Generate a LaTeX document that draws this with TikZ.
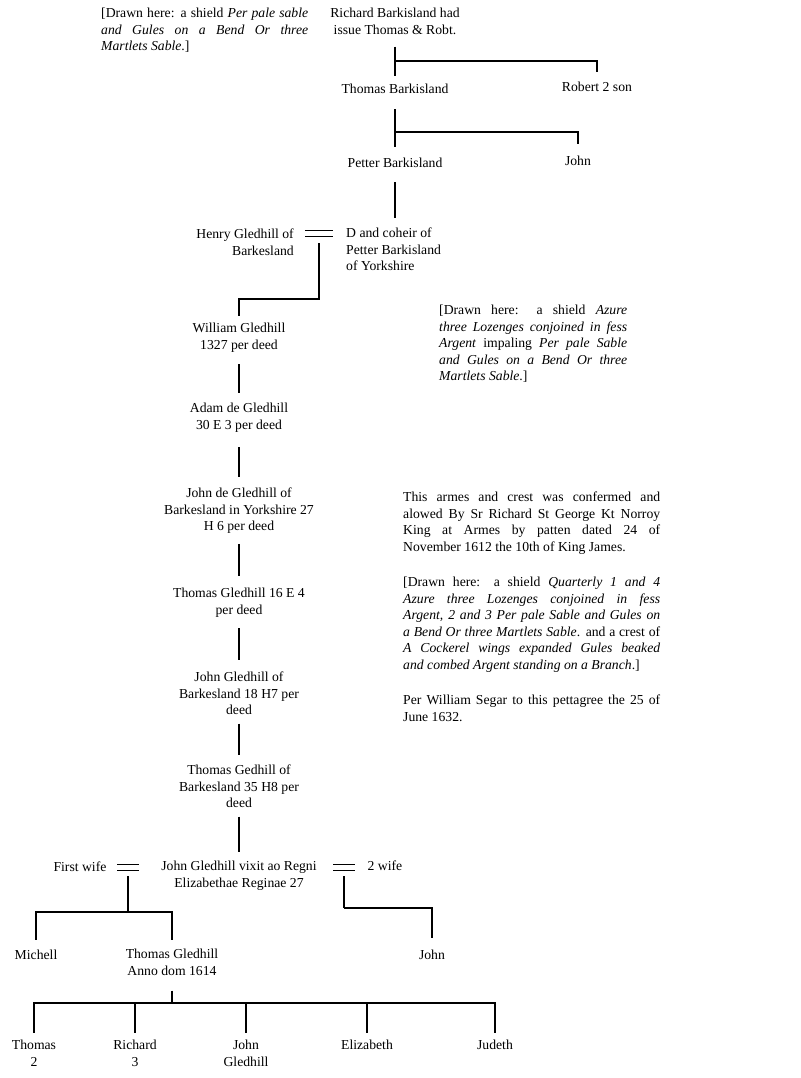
\documentclass[tikz,border=0pt]{standalone}
\usepackage{fontspec}
\setmainfont{Liberation Serif}
\newcommand\fs{\fontsize{13.7pt}{16.5pt}\selectfont}
\newcommand\jl[2]{\makebox[#1][s]{#2}}
\begin{document}
\begin{tikzpicture}[x=1pt,y=-1pt,
  lbl/.style={inner sep=0pt,font=\fs,align=center,anchor=north},
  blk/.style={inner sep=0pt,font=\fs,align=left,anchor=north west},
  rblk/.style={inner sep=0pt,font=\fs,align=right,anchor=north east},
  ln/.style={line width=1.1pt},
  eqline/.style={line width=0.9pt}]
\path[use as bounding box, fill=white] (0,0) rectangle (800,1078);

% ---- notes ----
\node[blk] (shieldA) at (101,8) {\jl{207pt}{[Drawn here: a shield \textit{Per pale sable}}\\
\jl{207pt}{\textit{and Gules on a Bend Or three}}\\
\textit{Martlets Sable}.]};

\node[blk] (shieldB) at (439,305) {\jl{188pt}{[Drawn here: a shield \textit{Azure}}\\
\jl{188pt}{\textit{three Lozenges conjoined in fess}}\\
\jl{188pt}{\textit{Argent} impaling \textit{Per pale Sable}}\\
\jl{188pt}{\textit{and Gules on a Bend Or three}}\\
\textit{Martlets Sable}.]};

\node[blk] (confirm) at (403,492) {\jl{257pt}{This armes and crest was confermed and}\\
\jl{257pt}{alowed By Sr Richard St George Kt Norroy}\\
\jl{257pt}{King at Armes by patten dated 24 of}\\
November 1612 the 10th of King James.};

\node[blk] (shieldC) at (403,577) {\jl{257pt}{[Drawn here: a shield \textit{Quarterly 1 and 4}}\\
\jl{257pt}{\textit{Azure three Lozenges conjoined in fess}}\\
\jl{257pt}{\textit{Argent, 2 and 3 Per pale Sable and Gules on}}\\
\jl{257pt}{\textit{a Bend Or three Martlets Sable}. and a crest of}\\
\jl{257pt}{\textit{A Cockerel wings expanded Gules beaked}}\\
\textit{and combed Argent standing on a Branch}.]};

\node[blk] (segar) at (403,695) {\jl{257pt}{Per William Segar to this pettagree the 25 of}\\
June 1632.};

% ---- Barkisland line ----
\node[lbl] (rich) at (395,8) {Richard Barkisland had\\issue Thomas \& Robt.};
\node[lbl] (thomasB) at (395,84) {Thomas Barkisland};
\node[lbl] (robert) at (597,82) {Robert 2 son};
\node[lbl] (petter) at (395,158) {Petter Barkisland};
\node[lbl] (johnP) at (578,156) {John};

\draw[ln,shorten <=12pt,shorten >=8pt] (rich.south) -- (thomasB.north);
\coordinate (j1) at (395,61);
\draw[ln,shorten >=10pt] (j1) -| (robert.north);
\draw[ln,shorten <=15pt,shorten >=11pt] (thomasB.south) -- (petter.north);
\coordinate (j2) at (395,132);
\draw[ln,shorten >=12pt] (j2) -| (johnP.north);

% ---- marriage Henry ----
\node[rblk] (henry) at (294,229) {Henry Gledhill of\\Barkesland};
\node[blk] (dcoheir) at (346,228) {D and coheir of\\Petter Barkisland\\of Yorkshire};
\draw[ln,shorten <=14pt,shorten >=10pt] (petter.south) -- (petter.south |- dcoheir.north);
\coordinate (mA) at (319,233);
\draw[eqline] ([xshift=-14pt,yshift=3pt]mA) -- ([xshift=14pt,yshift=3pt]mA)
              ([xshift=-14pt,yshift=-3pt]mA) -- ([xshift=14pt,yshift=-3pt]mA);
\coordinate (jA) at (319,299);

% ---- Gledhill chain ----
\node[lbl] (william) at (239,323) {William Gledhill\\1327 per deed};
\node[lbl] (adam) at (239,403) {Adam de Gledhill\\30 E 3 per deed};
\node[lbl] (johnde) at (239,488) {John de Gledhill of\\Barkesland in Yorkshire 27\\H 6 per deed};
\node[lbl] (thomasS) at (239,588) {Thomas Gledhill 16 E 4\\per deed};
\node[lbl] (johnOf) at (239,672) {John Gledhill of\\Barkesland 18 H7 per\\deed};
\node[lbl] (thomasGed) at (239,765) {Thomas Gedhill of\\Barkesland 35 H8 per\\deed};
\node[lbl] (vixit) at (239,861) {John Gledhill vixit ao Regni\\Elizabethae Reginae 27};

\draw[ln,shorten >=7pt] ([yshift=-10pt]mA) -- (jA) -| (william.north);
\draw[ln,shorten <=12pt,shorten >=10pt] (william.south) -- (adam.north);
\draw[ln,shorten <=15pt,shorten >=11pt] (adam.south) -- (johnde.north);
\draw[ln,shorten <=10pt,shorten >=12pt] (johnde.south) -- (thomasS.north);
\draw[ln,shorten <=11pt,shorten >=12pt] (thomasS.south) -- (johnOf.north);
\draw[ln,shorten <=8.5pt,shorten >=10pt] (johnOf.south) -- (thomasGed.north);
\draw[ln,shorten <=8.5pt,shorten >=9pt] (thomasGed.south) -- (vixit.north);

% ---- John Gledhill's marriages ----
\node[lbl] (firstwife) at (80,862) {First wife};
\node[lbl] (twowife) at (385,861) {2 wife};
\coordinate (mB) at (128,867);
\coordinate (mC) at (344,867);
\draw[eqline] ([xshift=-11pt,yshift=3pt]mB) -- ([xshift=11pt,yshift=3pt]mB)
              ([xshift=-11pt,yshift=-3pt]mB) -- ([xshift=11pt,yshift=-3pt]mB);
\draw[eqline] ([xshift=-11pt,yshift=3pt]mC) -- ([xshift=11pt,yshift=3pt]mC)
              ([xshift=-11pt,yshift=-3pt]mC) -- ([xshift=11pt,yshift=-3pt]mC);

\node[lbl] (michell) at (36,950) {Michell};
\node[lbl] (thomasGA) at (172,949) {Thomas Gledhill\\Anno dom 1614};
\node[lbl] (johnR) at (432,950) {John};

\coordinate (jB) at (128,912);
\draw[ln] ([yshift=-9pt]mB) -- (jB);
\draw[ln,shorten >=10pt] (jB) -| (michell.north);
\draw[ln,shorten >=9pt] (jB) -| (thomasGA.north);
\coordinate (jC) at (344,908);
\draw[ln] ([yshift=-9pt]mC) -- (jC);
\draw[ln,shorten >=12pt] (jC) -| (johnR.north);

% ---- Thomas Gledhill's children ----
\node[lbl] (thomasTwo) at (34,1040) {Thomas\\2};
\node[lbl] (richardThree) at (135,1040) {Richard\\3};
\node[lbl] (johnG) at (246,1040) {John\\Gledhill};
\node[lbl] (elizabeth) at (367,1040) {Elizabeth};
\node[lbl] (judeth) at (495,1040) {Judeth};

\coordinate (jD) at (172,1003);
\draw[ln,shorten <=15pt] (thomasGA.south) -- (jD);
\draw[ln,shorten >=7pt] (jD) -| (thomasTwo.north);
\draw[ln,shorten >=7pt] (jD) -| (richardThree.north);
\draw[ln,shorten >=7pt] (jD) -| (johnG.north);
\draw[ln,shorten >=7pt] (jD) -| (elizabeth.north);
\draw[ln,shorten >=7pt] (jD) -| (judeth.north);
\end{tikzpicture}
\end{document}
